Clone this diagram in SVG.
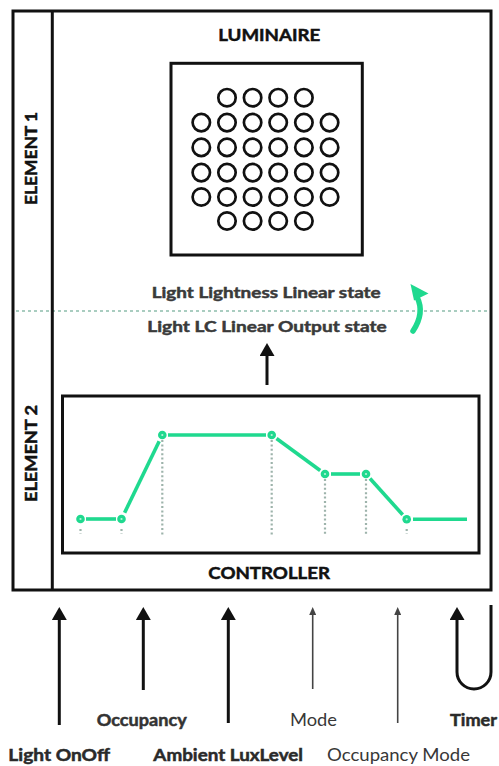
<svg xmlns="http://www.w3.org/2000/svg" width="499" height="766" viewBox="0 0 499 766">
<style>
.box{fill:none;stroke:#111;stroke-width:3}
.led{fill:none;stroke:#111;stroke-width:2.7}
.t{font-family:Lato,"Liberation Sans",sans-serif;font-weight:700;text-anchor:middle;stroke-width:0.5;paint-order:stroke}
.title{font-size:17px;fill:#111;stroke:#111}
.state{font-size:16px;fill:#3a3a3a;stroke:#3a3a3a}
.lbl{font-size:17px;fill:#2a2a2a;stroke:#2a2a2a}
.occ{fill:#333;stroke:#333}
.reg{font-weight:400;fill:#383838;stroke:none}
.curve{fill:none;stroke:#1fd98f;stroke-width:3.6;stroke-linecap:butt}
.pt{fill:#1fd98f}
.ptc{fill:#b8f3d8}
.vdot{stroke:#9db3ab;stroke-width:2.2;stroke-dasharray:2 2.4}
.hdot{stroke:#a9cdc0;stroke-width:2;stroke-dasharray:3 3}
.arr{stroke:#111;stroke-width:3;fill:none}
.arrs{stroke:#444;stroke-width:1.6;fill:none}
</style>
<defs>
<marker id="ah" viewBox="0 0 13 15" markerWidth="13" markerHeight="15" refX="1" refY="7.5" orient="auto" markerUnits="userSpaceOnUse">
<path d="M0,0 L13,7.5 L0,15 z" fill="#111"/>
</marker>
<marker id="ahs" viewBox="0 0 8 7" markerWidth="8" markerHeight="7" refX="1" refY="3.5" orient="auto" markerUnits="userSpaceOnUse">
<path d="M0,0 L8,3.5 L0,7 z" fill="#444"/>
</marker>
</defs>
<rect width="499" height="766" fill="#fff"/>

<line class="hdot" x1="16" y1="311" x2="490" y2="311"/>

<g id="frame">
<rect class="box" x="13" y="11" width="478" height="579"/>
<line class="box" x1="52.3" y1="11" x2="52.3" y2="590"/>
</g>

<g id="element1">
<text class="t title" transform="translate(37.3,158.5) rotate(-90)" textLength="93" lengthAdjust="spacingAndGlyphs">ELEMENT 1</text>
</g>
<g id="element2">
<text class="t title" transform="translate(37.3,453.5) rotate(-90)" textLength="97" lengthAdjust="spacingAndGlyphs">ELEMENT 2</text>
</g>

<g id="luminaire">
<text class="t title" x="269.2" y="40.5" textLength="102" lengthAdjust="spacingAndGlyphs">LUMINAIRE</text>
<rect class="box" x="171" y="63.3" width="191.3" height="191.7"/>
<g class="led">
<circle cx="227" cy="97.7" r="8.7"/><circle cx="252.6" cy="97.7" r="8.7"/><circle cx="278.2" cy="97.7" r="8.7"/><circle cx="303.9" cy="97.7" r="8.7"/>
<circle cx="201.3" cy="122.6" r="8.7"/><circle cx="227" cy="122.6" r="8.7"/><circle cx="252.6" cy="122.6" r="8.7"/><circle cx="278.2" cy="122.6" r="8.7"/><circle cx="303.9" cy="122.6" r="8.7"/><circle cx="329.6" cy="122.6" r="8.7"/>
<circle cx="201.3" cy="147.4" r="8.7"/><circle cx="227" cy="147.4" r="8.7"/><circle cx="252.6" cy="147.4" r="8.7"/><circle cx="278.2" cy="147.4" r="8.7"/><circle cx="303.9" cy="147.4" r="8.7"/><circle cx="329.6" cy="147.4" r="8.7"/>
<circle cx="201.3" cy="172.6" r="8.7"/><circle cx="227" cy="172.6" r="8.7"/><circle cx="252.6" cy="172.6" r="8.7"/><circle cx="278.2" cy="172.6" r="8.7"/><circle cx="303.9" cy="172.6" r="8.7"/><circle cx="329.6" cy="172.6" r="8.7"/>
<circle cx="201.3" cy="197" r="8.7"/><circle cx="227" cy="197" r="8.7"/><circle cx="252.6" cy="197" r="8.7"/><circle cx="278.2" cy="197" r="8.7"/><circle cx="303.9" cy="197" r="8.7"/><circle cx="329.6" cy="197" r="8.7"/>
<circle cx="227" cy="221" r="8.7"/><circle cx="252.6" cy="221" r="8.7"/><circle cx="278.2" cy="221" r="8.7"/><circle cx="303.9" cy="221" r="8.7"/>
</g>
</g>

<g id="states">
<text class="t state" x="266.2" y="297.7" textLength="229" lengthAdjust="spacingAndGlyphs">Light Lightness Linear state</text>
<text class="t state" x="267" y="331.7" textLength="239.4" lengthAdjust="spacingAndGlyphs">Light LC Linear Output state</text>
</g>

<g id="controller">
<rect class="box" x="62.5" y="396" width="416.5" height="157"/>
<text class="t title" x="269.2" y="579" textLength="121.7" lengthAdjust="spacingAndGlyphs">CONTROLLER</text>
<g>
<line class="vdot" x1="80.5" y1="529" x2="80.5" y2="534"/>
<line class="vdot" x1="121.5" y1="529" x2="121.5" y2="534"/>
<line class="vdot" x1="162.3" y1="440" x2="162.3" y2="535"/>
<line class="vdot" x1="271.7" y1="440" x2="271.7" y2="535"/>
<line class="vdot" x1="325" y1="479" x2="325" y2="535"/>
<line class="vdot" x1="366" y1="479" x2="366" y2="535"/>
<line class="vdot" x1="406.7" y1="529" x2="406.7" y2="534"/>
</g>
<g class="curve">
<line x1="86" y1="519" x2="116" y2="519"/>
<line x1="124.6" y1="512.7" x2="159.2" y2="441.3"/>
<line x1="168" y1="435" x2="266" y2="435"/>
<line x1="276.5" y1="438.5" x2="320.2" y2="470.5"/>
<line x1="331" y1="474" x2="360" y2="474"/>
<line x1="370" y1="478.5" x2="402.7" y2="514.8"/>
<line x1="413" y1="519.3" x2="467" y2="519.3"/>
</g>
<g>
<circle class="pt" cx="80.5" cy="519" r="4.3"/><circle class="ptc" cx="80.5" cy="519" r="1.1"/>
<circle class="pt" cx="121.5" cy="519" r="4.3"/><circle class="ptc" cx="121.5" cy="519" r="1.1"/>
<circle class="pt" cx="162.3" cy="435" r="4.3"/><circle class="ptc" cx="162.3" cy="435" r="1.1"/>
<circle class="pt" cx="271.7" cy="435" r="4.3"/><circle class="ptc" cx="271.7" cy="435" r="1.1"/>
<circle class="pt" cx="325" cy="474" r="4.3"/><circle class="ptc" cx="325" cy="474" r="1.1"/>
<circle class="pt" cx="366" cy="474" r="4.3"/><circle class="ptc" cx="366" cy="474" r="1.1"/>
<circle class="pt" cx="406.7" cy="519.3" r="4.3"/><circle class="ptc" cx="406.7" cy="519.3" r="1.1"/>
</g>
</g>

<g id="inputs">
<text class="t lbl occ" x="141.7" y="725.5" textLength="90" lengthAdjust="spacingAndGlyphs">Occupancy</text>
<text class="t lbl reg" x="313.5" y="725.5" textLength="47" lengthAdjust="spacingAndGlyphs">Mode</text>
<text class="t lbl" x="473.5" y="725.5" textLength="47" lengthAdjust="spacingAndGlyphs">Timer</text>
<text class="t lbl" x="59.2" y="761" textLength="101.7" lengthAdjust="spacingAndGlyphs">Light OnOff</text>
<text class="t lbl" x="228.2" y="761" textLength="149.7" lengthAdjust="spacingAndGlyphs">Ambient LuxLevel</text>
<text class="t lbl reg" x="398.5" y="761" textLength="143" lengthAdjust="spacingAndGlyphs">Occupancy Mode</text>
</g>

<g id="connectors">
<line class="arr" x1="267" y1="385" x2="267" y2="355" marker-end="url(#ah)"/>
<path d="M413,331 Q425,313 417,297" fill="none" stroke="#1fd98f" stroke-width="5.5" stroke-linecap="round"/>
<polygon points="410.5,284 428.5,293.5 414,300.5" fill="#1fd98f"/>
<line class="arr" x1="59.3" y1="725" x2="59.3" y2="619" marker-end="url(#ah)"/>
<line class="arr" x1="143.3" y1="690" x2="143.3" y2="619" marker-end="url(#ah)"/>
<line class="arr" x1="228.3" y1="723" x2="228.3" y2="619" marker-end="url(#ah)"/>
<line class="arrs" x1="312.7" y1="689" x2="312.7" y2="614" marker-end="url(#ahs)"/>
<line class="arrs" x1="397.7" y1="723" x2="397.7" y2="614" marker-end="url(#ahs)"/>
<path class="arr" d="M491,605 L491,672 A17,17 0 0 1 457,672 L457,619" marker-end="url(#ah)"/>
</g>
</svg>
